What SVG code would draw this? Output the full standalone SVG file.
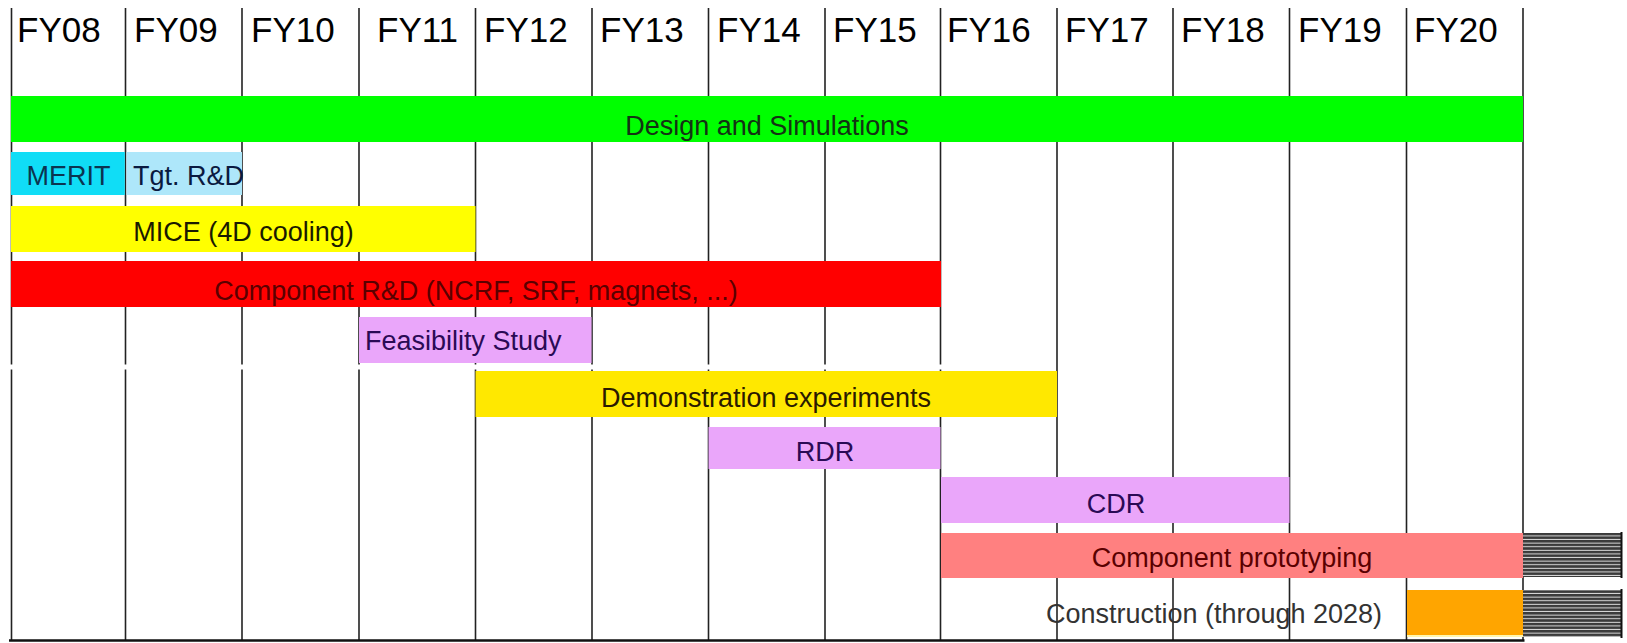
<svg xmlns="http://www.w3.org/2000/svg" width="1627" height="643" viewBox="0 0 1627 643">
<style>
  .hdr { font-family: "Liberation Sans", Arial, sans-serif; font-size: 35px; fill: #000; }
  .lbl { font-family: "Liberation Sans", Arial, sans-serif; font-size: 27px; }
  .mid { text-anchor: middle; }
  .grid line { stroke: #222; stroke-width: 1.6; }
  .violet { fill: #EAA6FA; }
  .vtext { fill: #2A0A55; }
  .redtext { fill: #5A0000; }
  .edge { stroke: #111; stroke-width: 2; }
</style>
<defs>
  <pattern id="hatch" x="0" y="0" width="10" height="3.6" patternUnits="userSpaceOnUse">
    <rect width="10" height="3.6" fill="#dcdcdc"/>
    <rect width="10" height="2.6" fill="#3a3a3a"/>
  </pattern>
</defs>
<rect width="1627" height="643" fill="#fff"/>

<g id="connectors" class="grid">
  <line x1="11.5" y1="8" x2="11.5" y2="641"/>
  <line x1="125.5" y1="8" x2="125.5" y2="641"/>
  <line x1="242" y1="8" x2="242" y2="641"/>
  <line x1="359" y1="8" x2="359" y2="641"/>
  <line x1="475.5" y1="8" x2="475.5" y2="641"/>
  <line x1="592" y1="8" x2="592" y2="641"/>
  <line x1="708.5" y1="8" x2="708.5" y2="641"/>
  <line x1="825" y1="8" x2="825" y2="641"/>
  <line x1="940.5" y1="8" x2="940.5" y2="641"/>
  <line x1="1057" y1="8" x2="1057" y2="641"/>
  <line x1="1173" y1="8" x2="1173" y2="641"/>
  <line x1="1289.5" y1="8" x2="1289.5" y2="641"/>
  <line x1="1406.5" y1="8" x2="1406.5" y2="641"/>
  <line x1="1523" y1="8" x2="1523" y2="641"/>
  <rect x="5" y="364.5" width="1045" height="5" fill="#fff"/>
  <line x1="9" y1="640.5" x2="1524.5" y2="640.5" style="stroke:#111;stroke-width:2.6"/>
</g>

<g id="headers">
  <text class="hdr" x="17" y="42">FY08</text>
  <text class="hdr" x="134" y="42">FY09</text>
  <text class="hdr" x="251" y="42">FY10</text>
  <text class="hdr" x="377" y="42">FY11</text>
  <text class="hdr" x="484" y="42">FY12</text>
  <text class="hdr" x="600" y="42">FY13</text>
  <text class="hdr" x="717" y="42">FY14</text>
  <text class="hdr" x="833" y="42">FY15</text>
  <text class="hdr" x="947" y="42">FY16</text>
  <text class="hdr" x="1065" y="42">FY17</text>
  <text class="hdr" x="1181" y="42">FY18</text>
  <text class="hdr" x="1298" y="42">FY19</text>
  <text class="hdr" x="1414" y="42">FY20</text>
</g>

<g id="design">
  <rect x="11" y="96" width="1512" height="46" fill="#00FF00"/>
  <text class="lbl mid" x="767" y="135" fill="#143214">Design and Simulations</text>
</g>

<g id="merit">
  <rect x="11" y="152" width="113.8" height="43" fill="#10DDF6"/>
  <text class="lbl mid" x="68.5" y="185" fill="#0B3550">MERIT</text>
</g>

<g id="tgt">
  <rect x="126.5" y="152" width="115.5" height="43" fill="#AEE7FA"/>
  <text class="lbl" x="133" y="185" fill="#0A1A40">Tgt. R&amp;D</text>
</g>

<g id="mice">
  <rect x="11" y="206" width="464.5" height="46" fill="#FFFF00"/>
  <text class="lbl mid" x="243.5" y="241" fill="#1A1A00">MICE (4D cooling)</text>
</g>

<g id="component-rd">
  <rect x="11" y="261" width="930" height="46" fill="#FF0000"/>
  <text class="lbl mid redtext" x="476" y="300">Component R&amp;D (NCRF, SRF, magnets, ...)</text>
</g>

<g id="feasibility">
  <rect x="359" y="317" width="232.5" height="46" class="violet"/>
  <text class="lbl vtext" x="365" y="350">Feasibility Study</text>
</g>

<g id="demonstration">
  <rect x="475.5" y="371" width="581.5" height="46" fill="#FFE800"/>
  <text class="lbl mid" x="766" y="407" fill="#2A1A00">Demonstration experiments</text>
</g>

<g id="rdr">
  <rect x="708.5" y="427" width="232" height="42" class="violet"/>
  <text class="lbl mid vtext" x="825" y="461">RDR</text>
</g>

<g id="cdr">
  <rect x="941" y="477" width="348.5" height="46" class="violet"/>
  <text class="lbl mid vtext" x="1116" y="513">CDR</text>
</g>

<g id="prototyping">
  <rect x="941" y="533" width="582" height="45" fill="#FF8080"/>
  <text class="lbl mid redtext" x="1232" y="567">Component prototyping</text>
  <rect x="1523" y="533" width="98" height="44" fill="url(#hatch)"/>
  <line class="edge" x1="1621.5" y1="532" x2="1621.5" y2="578"/>
</g>

<g id="construction">
  <text class="lbl mid" x="1214" y="623" fill="#333">Construction (through 2028)</text>
  <rect x="1407" y="590" width="116" height="47" fill="#FFA500"/>
  <rect x="1407" y="635" width="116" height="2" fill="#FFF6B0"/>
  <rect x="1523" y="590" width="98" height="47" fill="url(#hatch)"/>
  <line class="edge" x1="1621.5" y1="589" x2="1621.5" y2="638"/>
</g>
</svg>
